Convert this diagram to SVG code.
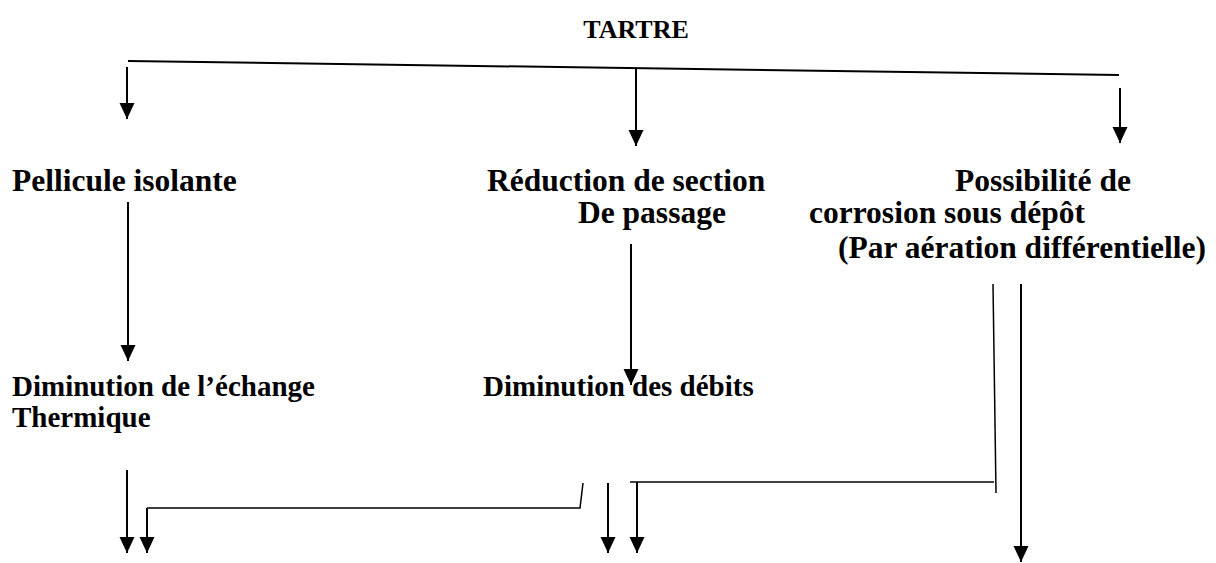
<svg xmlns="http://www.w3.org/2000/svg" width="1216" height="563" viewBox="0 0 1216 563">
<style>
.t{font-family:"Liberation Serif","Times New Roman",serif;font-weight:bold;fill:#000}
.a{font-size:31.5px}
.b{font-size:29px}
.h{font-size:26px}
.c{stroke:#000;stroke-width:2;fill:none}
.d{stroke:#000;stroke-width:1.5;fill:none}
</style>
<defs>
<marker id="ah" markerUnits="userSpaceOnUse" markerWidth="17" markerHeight="16" refX="16" refY="7.5" orient="auto">
<path d="M0,0 L16,7.5 L0,15 z" fill="#000"/>
</marker>
</defs>
<rect width="1216" height="563" fill="#fff"/>
<g id="tartre"><text class="t h" x="636" y="38" text-anchor="middle">TARTRE</text></g>
<g id="pellicule"><text class="t a" x="12" y="191">Pellicule isolante</text></g>
<g id="reduction"><text class="t a" x="487" y="191">Réduction de section</text><text class="t a" x="578" y="223">De passage</text></g>
<g id="corrosion"><text class="t a" x="955" y="191">Possibilité de</text><text class="t a" x="809" y="223">corrosion sous dépôt</text><text class="t a" x="838" y="258">(Par aération différentielle)</text></g>
<g id="echange"><text class="t b" x="12" y="396">Diminution de l’échange</text><text class="t b" x="12" y="427">Thermique</text></g>
<g id="debits"><text class="t b" x="483" y="396">Diminution des débits</text></g>
<g id="connectors">
<line class="c" x1="128" y1="61" x2="1119" y2="75"/>
<line class="c" x1="127" y1="67" x2="127" y2="119" marker-end="url(#ah)"/>
<line class="c" x1="636" y1="68" x2="636" y2="146" marker-end="url(#ah)"/>
<line class="c" x1="1120" y1="88" x2="1120" y2="143" marker-end="url(#ah)"/>
<line class="c" x1="128" y1="202" x2="128" y2="361" marker-end="url(#ah)"/>
<line class="c" x1="631" y1="244" x2="631" y2="385" marker-end="url(#ah)"/>
<line class="d" x1="993" y1="284" x2="996" y2="493"/>
<line class="c" x1="1021" y1="284" x2="1021" y2="562" marker-end="url(#ah)"/>
<line class="c" x1="127" y1="470" x2="127" y2="553" marker-end="url(#ah)"/>
<polyline class="d" points="583,483 580,508 147,508"/>
<line class="c" x1="147" y1="508" x2="147" y2="553" marker-end="url(#ah)"/>
<line class="c" x1="608" y1="483" x2="608" y2="553" marker-end="url(#ah)"/>
<line class="d" x1="630" y1="482" x2="994" y2="482"/>
<line class="c" x1="637" y1="482" x2="637" y2="553" marker-end="url(#ah)"/>
</g>
</svg>
